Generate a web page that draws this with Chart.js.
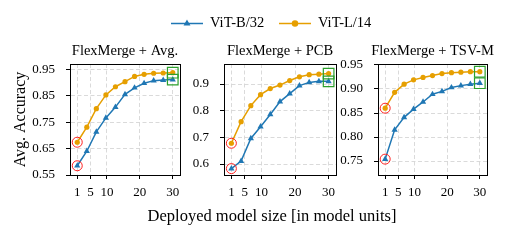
<!DOCTYPE html>
<html>
<head>
<meta charset="utf-8">
<script src="https://cdn.jsdelivr.net/npm/chart.js@4.4.1/dist/chart.umd.min.js"></script>
<style>
  html, body { margin: 0; padding: 0; background: #fff; }
  #wrap { position: relative; width: 509px; height: 240px; }
  #wrap canvas { position: absolute; left: 0; top: 0; }
</style>
</head>
<body>
<div id="wrap">
  <canvas id="avgChart" width="509" height="240"></canvas>
  <canvas id="pcbChart" width="509" height="240"></canvas>
  <canvas id="tsvChart" width="509" height="240"></canvas>
</div>
<script>
// deployed model size (model units)
const modelSizes = [1, 3.9, 6.8, 9.7, 12.6, 15.5, 18.4, 21.3, 24.2, 27.1, 30];
const xTicks = [1, 5, 10, 20, 30];

// FlexMerge + Avg.
const avgB32 = [0.585, 0.640, 0.713, 0.766, 0.807, 0.855, 0.880, 0.897, 0.907, 0.909, 0.911];
const avgL14 = [0.674, 0.731, 0.801, 0.853, 0.884, 0.903, 0.923, 0.931, 0.935, 0.936, 0.937];
const avgYTicks = [0.55, 0.65, 0.75, 0.85, 0.95];

// FlexMerge + PCB
const pcbB32 = [0.583, 0.611, 0.696, 0.740, 0.786, 0.834, 0.864, 0.894, 0.906, 0.910, 0.910];
const pcbL14 = [0.678, 0.759, 0.819, 0.860, 0.883, 0.896, 0.913, 0.927, 0.935, 0.937, 0.939];
const pcbYTicks = [0.6, 0.7, 0.8, 0.9];

// FlexMerge + TSV-M
const tsvB32 = [0.754, 0.815, 0.841, 0.858, 0.873, 0.889, 0.895, 0.903, 0.907, 0.910, 0.912];
const tsvL14 = [0.860, 0.893, 0.910, 0.919, 0.924, 0.928, 0.932, 0.934, 0.935, 0.936, 0.936];
const tsvYTicks = [0.75, 0.80, 0.85, 0.90, 0.95];

const BLUE = '#1f77b4';
const ORANGE = '#e69f00';
const SERIF = '"Liberation Serif", "Times New Roman", serif';

const pts = (ys) => ys.map((y, i) => ({ x: modelSizes[i], y: y }));

// titles, frame, legend and shared x label
const panelText = {
    id: 'panelText',
    afterDraw(chart, args, opts) {
        const ctx = chart.ctx;
        const a = chart.chartArea;
        ctx.save();
        ctx.strokeStyle = '#000';
        ctx.lineWidth = 1;
        ctx.strokeRect(Math.round(a.left) + 0.5, Math.round(a.top) + 0.5,
            Math.round(a.right - a.left), Math.round(a.bottom - a.top));
        ctx.fillStyle = '#000';
        ctx.textBaseline = 'middle';
        ctx.textAlign = 'center';
        ctx.font = '14.5px ' + SERIF;
        ctx.fillText(opts.title, (a.left + a.right) / 2, 51);

        if (opts.legend) {
            const items = [
                { label: 'ViT-B/32', color: BLUE, style: 'triangle', x: 171 },
                { label: 'ViT-L/14', color: ORANGE, style: 'circle', x: 279 }
            ];
            items.forEach(it => {
                ctx.strokeStyle = it.color;
                ctx.fillStyle = it.color;
                ctx.lineWidth = 1.5;
                ctx.beginPath();
                ctx.moveTo(it.x, 23.5);
                ctx.lineTo(it.x + 32, 23.5);
                ctx.stroke();
                Chart.helpers.drawPoint(ctx, { pointStyle: it.style, radius: 2.5, rotation: 0, borderWidth: 1 }, it.x + 16, 23.5);
                ctx.fillStyle = '#000';
                ctx.textAlign = 'left';
                ctx.font = '14.5px ' + SERIF;
                ctx.fillText(it.label, it.x + 39, 23.5);
            });
            ctx.textAlign = 'center';
            ctx.font = '16.5px ' + SERIF;
            ctx.fillText('Deployed model size [in model units]', 272, 217);
        }
        ctx.restore();
    }
};

function makePanel(canvasId, title, b32, l14, yMin, yMax, yTicks, decimals, box, extra) {
    const ctx = document.getElementById(canvasId).getContext('2d');
    const last = modelSizes.length - 1;
    return new Chart(ctx, {
        type: 'line',
        data: {
            datasets: [
                {
                    label: 'first',
                    data: [{ x: modelSizes[0], y: b32[0] }, { x: modelSizes[0], y: l14[0] }],
                    showLine: false,
                    pointStyle: 'circle',
                    pointRadius: 5,
                    pointBorderWidth: 1,
                    pointBorderColor: '#ff2020',
                    pointBackgroundColor: 'rgba(0,0,0,0)',
                    order: 0
                },
                {
                    label: 'last',
                    data: [{ x: modelSizes[last], y: b32[last] }, { x: modelSizes[last], y: l14[last] }],
                    showLine: false,
                    pointStyle: 'rect',
                    pointRadius: 7.5,
                    pointBorderWidth: 1.2,
                    pointBorderColor: '#2ca02c',
                    pointBackgroundColor: 'rgba(0,0,0,0)',
                    order: 0
                },
                {
                    label: 'ViT-L/14',
                    data: pts(l14),
                    borderColor: ORANGE,
                    backgroundColor: ORANGE,
                    borderWidth: 1.5,
                    pointStyle: 'circle',
                    pointRadius: 2.6,
                    pointBorderWidth: 0,
                    pointBackgroundColor: ORANGE,
                    tension: 0,
                    order: 2
                },
                {
                    label: 'ViT-B/32',
                    data: pts(b32),
                    borderColor: BLUE,
                    backgroundColor: BLUE,
                    borderWidth: 1.5,
                    pointStyle: 'triangle',
                    pointRadius: 3.6,
                    pointBorderWidth: 0,
                    pointBackgroundColor: BLUE,
                    tension: 0,
                    order: 1
                }
            ]
        },
        options: {
            responsive: false,
            animation: false,
            devicePixelRatio: 1,
            events: [],
            layout: { padding: { left: box.left - box.yw, right: 509 - box.right, top: 64, bottom: 0 } },
            plugins: {
                legend: { display: false },
                tooltip: { enabled: false },
                panelText: { title: title, legend: !!extra }
            },
            scales: {
                x: {
                    type: 'linear',
                    min: -1.2,
                    max: 32.2,
                    afterBuildTicks: s => { s.ticks = xTicks.map(v => ({ value: v })); },
                    afterFit: s => { s.height = 65; },
                    ticks: { color: '#000', font: { family: SERIF, size: 13 }, padding: 6, maxRotation: 0, autoSkip: false },
                    grid: { color: '#d0d0d0', lineWidth: 0.8, borderDash: [4, 2.5], tickColor: '#000', tickLength: 4, tickWidth: 1, tickBorderDash: [] },
                    border: { display: true, color: '#000', width: 1, dash: [4, 2.5] }
                },
                y: {
                    type: 'linear',
                    min: yMin,
                    max: yMax,
                    afterBuildTicks: s => { s.ticks = yTicks.map(v => ({ value: v })); },
                    afterFit: s => { s.width = box.yw; },
                    ticks: {
                        color: '#000',
                        font: { family: SERIF, size: 13 },
                        padding: 11,
                        callback: v => v.toFixed(decimals)
                    },
                    title: extra ? { display: true, text: 'Avg. Accuracy', color: '#000', font: { family: SERIF, size: 16 }, padding: 0 } : { display: false },
                    grid: { color: '#d0d0d0', lineWidth: 0.8, borderDash: [4, 2.5], tickColor: '#000', tickLength: 4, tickWidth: 1, tickBorderDash: [] },
                    border: { display: true, color: '#000', width: 1, dash: [4, 2.5] }
                }
            }
        },
        plugins: [panelText]
    });
}

makePanel('avgChart', 'FlexMerge + Avg.', avgB32, avgL14, 0.55, 0.97, avgYTicks, 2,
    { left: 70, right: 180, yw: 59 }, true);
makePanel('pcbChart', 'FlexMerge + PCB', pcbB32, pcbL14, 0.559, 0.975, pcbYTicks, 1,
    { left: 224, right: 336, yw: 50 }, false);
makePanel('tsvChart', 'FlexMerge + TSV-M', tsvB32, tsvL14, 0.721, 0.952, tsvYTicks, 2,
    { left: 378, right: 487, yw: 50 }, false);
</script>
</body>
</html>
